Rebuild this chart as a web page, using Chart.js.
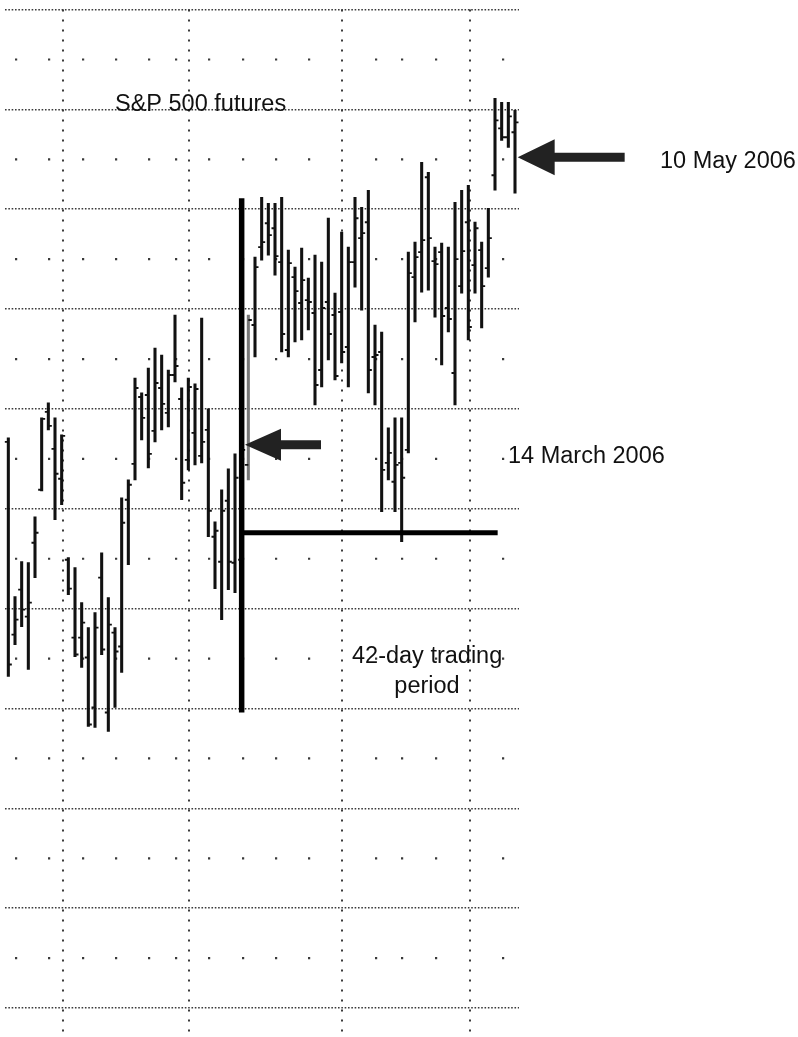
<!DOCTYPE html>
<html>
<head>
<meta charset="utf-8">
<script src="https://cdn.jsdelivr.net/npm/chart.js@4.4.1/dist/chart.umd.min.js"></script>
<style>
  html, body { margin: 0; padding: 0; background: #fff; }
  #wrap { width: 798px; height: 1037px; }
</style>
</head>
<body>
<div id="wrap"><canvas id="chart" width="798" height="1037"></canvas></div>
<script>
// S&P 500 futures, daily bars (trading day 1..77)
const highs = [1307.1, 1291.2, 1294.7, 1294.6, 1299.2, 1309.1, 1310.6, 1309.1, 1307.4, 1295.1,
  1294.1, 1290.6, 1288.1, 1289.6, 1295.6, 1291.1, 1288.1, 1301.1, 1302.9, 1313.1,
  1311.6, 1314.1, 1316.1, 1315.4, 1313.9, 1319.4, 1312.1, 1313.1, 1312.5, 1319.1,
  1310.0, 1298.7, 1301.9, 1304.0, 1305.5, 1306.9, 1319.4, 1325.2, 1331.2, 1330.6,
  1330.6, 1331.2, 1325.9, 1324.2, 1326.1, 1323.1, 1325.4, 1324.7, 1329.1, 1321.6,
  1327.7, 1326.2, 1331.2, 1330.2, 1331.9, 1318.4, 1317.7, 1308.1, 1309.1, 1309.1,
  1325.7, 1326.7, 1334.7, 1333.7, 1326.2, 1326.6, 1326.2, 1330.7, 1331.9, 1332.4,
  1328.7, 1326.7, 1330.1, 1341.1, 1340.7, 1340.7, 1339.9];
const lows = [1283.2, 1286.4, 1288.2, 1283.9, 1293.1, 1301.8, 1307.9, 1298.9, 1300.4, 1291.4,
  1285.2, 1284.1, 1278.2, 1278.1, 1285.4, 1277.7, 1280.1, 1283.6, 1294.4, 1302.9,
  1306.9, 1304.1, 1306.7, 1307.9, 1308.2, 1312.7, 1300.9, 1303.9, 1304.4, 1304.6,
  1297.2, 1292.0, 1288.9, 1291.9, 1291.6, 1290.9, 1302.9, 1315.2, 1324.9, 1325.4,
  1323.4, 1315.7, 1315.2, 1316.7, 1316.9, 1317.9, 1310.4, 1312.2, 1314.9, 1312.9,
  1314.6, 1312.2, 1322.2, 1319.9, 1311.6, 1310.4, 1299.7, 1302.9, 1299.7, 1296.7,
  1305.6, 1318.7, 1321.7, 1321.9, 1319.2, 1314.4, 1317.7, 1310.4, 1321.6, 1316.9,
  1321.6, 1318.1, 1323.2, 1331.9, 1336.9, 1336.2, 1331.6];
const opens = [1306.7, 1287.4, 1291.9, 1289.2, 1296.6, 1301.9, 1309.7, 1306.0, 1303.0, 1294.9,
  1287.1, 1287.1, 1285.1, 1280.1, 1293.1, 1279.6, 1287.6, 1286.2, 1300.9, 1304.5,
  1311.2, 1311.4, 1307.8, 1312.1, 1309.6, 1313.4, 1311.0, 1304.9, 1307.6, 1305.3,
  1307.9, 1297.2, 1294.7, 1300.8, 1294.6, 1294.9, 1304.4, 1318.4, 1326.2, 1328.6,
  1328.1, 1324.7, 1315.9, 1323.2, 1320.6, 1320.9, 1319.6, 1313.9, 1320.7, 1319.4,
  1319.7, 1316.2, 1324.7, 1327.1, 1328.7, 1315.2, 1315.7, 1304.6, 1302.7, 1304.6,
  1305.9, 1323.2, 1325.7, 1333.2, 1324.8, 1325.7, 1320.1, 1313.6, 1322.3, 1328.7,
  1324.4, 1325.9, 1324.1, 1333.4, 1338.1, 1337.2, 1337.7];
const closes = [1284.4, 1288.9, 1289.9, 1290.6, 1297.6, 1309.0, 1308.3, 1303.5, 1307.3, 1292.0,
  1285.4, 1288.6, 1278.4, 1288.1, 1285.9, 1288.4, 1285.7, 1298.6, 1302.4, 1312.1,
  1309.1, 1305.5, 1312.6, 1310.5, 1313.4, 1314.3, 1302.6, 1312.2, 1312.0, 1306.7,
  1299.8, 1297.8, 1299.8, 1294.7, 1303.1, 1305.9, 1318.9, 1324.2, 1326.7, 1327.4,
  1325.3, 1317.5, 1324.6, 1321.8, 1322.9, 1320.7, 1312.4, 1320.1, 1317.5, 1313.3,
  1315.7, 1324.7, 1329.1, 1327.6, 1313.9, 1315.4, 1303.9, 1305.6, 1304.4, 1303.1,
  1323.6, 1325.2, 1326.9, 1327.1, 1324.5, 1319.3, 1319.0, 1325.0, 1325.8, 1318.2,
  1328.1, 1322.3, 1327.1, 1338.9, 1337.2, 1339.3, 1338.7];
const days = highs.map((h, k) => k + 1);

// axis ticks: month lines, week markers, price levels
const monthTicks = [9.15, 28.15, 51.1, 70.2];
const weekTicks = [2.15, 7.15, 12.15, 17.15, 22.15, 26.15, 31.15, 36.15, 41.15, 46.15, 56.1, 60.1, 65.1, 75.2];
const priceTicks = [1250, 1260, 1270, 1280, 1290, 1300, 1310, 1320, 1330, 1340, 1350];

// 42-day trading period markers
const startDay = 36;           // 14 March 2006
const markerRange = [1279.6, 1331.1];
const baseLevel = 1297.6;
const baseEnd = 74.4;
const arrowMarch = { x: 36.5, y: 1306.4 };
const arrowMay = { x: 77.4, y: 1335.2 };

const ink = '#111';
const dotColor = '#3a3a3a';
const labelFont = '23.5px "Liberation Sans", Arial, Helvetica, sans-serif';

// open / close ticks on each bar
const ohlcTicks = {
    id: 'ohlcTicks',
    afterDatasetDraw(chart, args) {
        if (args.index !== 0) return;
        const { ctx, scales: { x, y } } = chart;
        ctx.save();
        ctx.strokeStyle = ink;
        ctx.lineWidth = 1.9;
        days.forEach((d, k) => {
            const px = x.getPixelForValue(d);
            const yo = y.getPixelForValue(opens[k]);
            const yc = y.getPixelForValue(closes[k]);
            ctx.beginPath();
            ctx.moveTo(px - 3.5, yo);
            ctx.lineTo(px, yo);
            ctx.moveTo(px, yc);
            ctx.lineTo(px + 3.5, yc);
            ctx.stroke();
        });
        ctx.restore();
    }
};

function drawArrow(ctx, tipX, tipY, headLen, headHalf, shaftLen, shaftHalf) {
    ctx.beginPath();
    ctx.moveTo(tipX, tipY);
    ctx.lineTo(tipX + headLen, tipY - headHalf);
    ctx.lineTo(tipX + headLen, tipY - shaftHalf);
    ctx.lineTo(tipX + headLen + shaftLen, tipY - shaftHalf);
    ctx.lineTo(tipX + headLen + shaftLen, tipY + shaftHalf);
    ctx.lineTo(tipX + headLen, tipY + shaftHalf);
    ctx.lineTo(tipX + headLen, tipY + headHalf);
    ctx.closePath();
    ctx.fill();
}

// arrows and labels
const annotations = {
    id: 'annotations',
    afterDraw(chart) {
        const { ctx, scales: { x, y } } = chart;
        ctx.save();
        ctx.fillStyle = '#222';
        drawArrow(ctx, x.getPixelForValue(arrowMarch.x), y.getPixelForValue(arrowMarch.y), 36, 16, 40, 4.5);
        drawArrow(ctx, x.getPixelForValue(arrowMay.x), y.getPixelForValue(arrowMay.y), 37, 18, 70, 4.5);

        ctx.fillStyle = ink;
        ctx.font = labelFont;
        ctx.textBaseline = 'alphabetic';
        ctx.textAlign = 'left';
        ctx.fillText('S&P 500 futures', 115, 111);
        ctx.fillText('10 May 2006', 660, 168);
        ctx.fillText('14 March 2006', 508, 463);
        ctx.fillText('42-day trading', 352, 663);
        ctx.textAlign = 'center';
        ctx.fillText('period', 427, 693);
        ctx.restore();
    }
};

const ctx = document.getElementById('chart');

new Chart(ctx, {
    type: 'bar',
    data: {
        datasets: [{
            label: 'High-Low',
            data: days.map((d, k) => ({ x: d, y: [lows[k], highs[k]] })),
            backgroundColor: c => (c.dataIndex === 36 ? '#777' : ink),
            barThickness: 2.4,
            grouped: false,
            order: 2
        }, {
            type: 'line',
            label: 'start',
            data: [{ x: startDay, y: markerRange[0] }, { x: startDay, y: markerRange[1] }],
            borderColor: '#000',
            borderWidth: 5.5,
            pointRadius: 0,
            order: 0
        }, {
            type: 'line',
            label: 'base',
            data: [{ x: startDay, y: baseLevel }, { x: baseEnd, y: baseLevel }],
            borderColor: '#000',
            borderWidth: 5,
            pointRadius: 0,
            order: 0
        }]
    },
    options: {
        responsive: false,
        animation: false,
        events: [],
        layout: { padding: { left: 5, right: 279, top: 9.5, bottom: 0 } },
        plugins: {
            legend: { display: false },
            tooltip: { enabled: false }
        },
        scales: {
            x: {
                type: 'linear',
                min: 0.5,
                max: 77.6,
                offset: false,
                grid: { offset: false, color: dotColor, lineWidth: 2, drawTicks: false },
                border: { display: false, dash: [2, 8] },
                ticks: { display: false },
                afterBuildTicks: s => { s.ticks = monthTicks.map(v => ({ value: v })); }
            },
            xw: {
                type: 'linear',
                position: 'bottom',
                min: 0.5,
                max: 77.6,
                offset: false,
                grid: { offset: false, color: dotColor, lineWidth: 2.2, drawTicks: false },
                border: { display: false, dash: [2.2, 97.65], dashOffset: 50.95 },
                ticks: { display: false },
                afterBuildTicks: s => { s.ticks = weekTicks.map(v => ({ value: v })); }
            },
            y: {
                type: 'linear',
                min: 1247.1,
                max: 1350,
                grid: { color: dotColor, lineWidth: 1.6, drawTicks: false },
                border: { display: false, dash: [1.6, 1.73] },
                ticks: { display: false },
                afterBuildTicks: s => { s.ticks = priceTicks.map(v => ({ value: v })); }
            }
        }
    },
    plugins: [ohlcTicks, annotations]
});
</script>
</body>
</html>
